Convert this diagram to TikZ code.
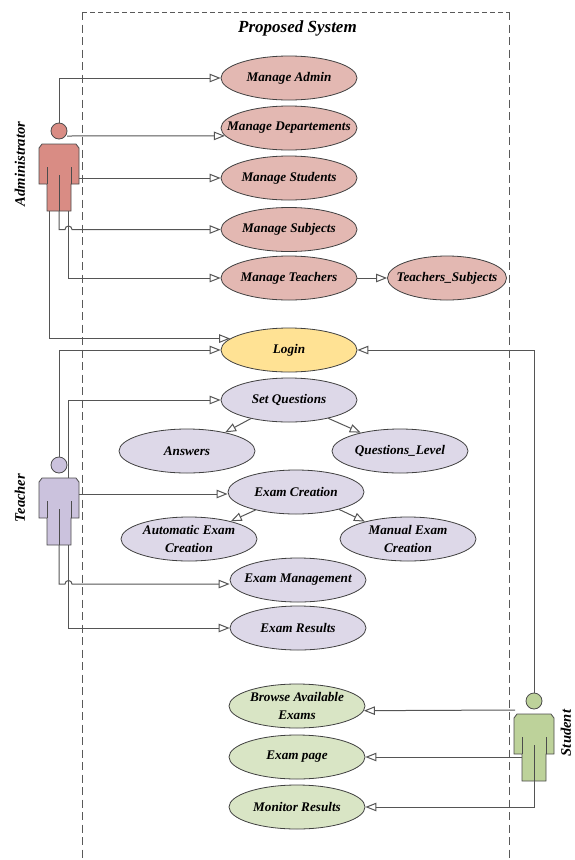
\documentclass[tikz,border=0pt]{standalone}
\usepackage{fontspec}
\setmainfont{Liberation Serif}
\usetikzlibrary{arrows.meta,shapes.geometric,calc}
\definecolor{linegray}{HTML}{555555}
\definecolor{pinkfill}{HTML}{E3B8B2}
\definecolor{pinkactor}{HTML}{D98C84}
\definecolor{yellowfill}{HTML}{FFE294}
\definecolor{purplefill}{HTML}{DDD8E8}
\definecolor{purpleactor}{HTML}{CBC2DD}
\definecolor{greenfill}{HTML}{D9E5C5}
\definecolor{greenactor}{HTML}{BDD29A}
\tikzset{
  x=1pt,y=-1pt,
  usecase/.style={ellipse,draw=black!75,line width=0.8pt,minimum width=136pt,minimum height=44pt,inner xsep=-35pt,inner ysep=-12pt,align=center,font=\bfseries\itshape\fontsize{13.2}{18}\selectfont},
  pinkcase/.style={usecase,fill=pinkfill},
  yellowcase/.style={usecase,fill=yellowfill},
  purplecase/.style={usecase,fill=purplefill},
  greencase/.style={usecase,fill=greenfill},
  link/.style={draw=linegray,line width=1pt,-{Triangle[open,fill=white,length=11pt,width=8.5pt]}},
  actorlabel/.style={rotate=90,font=\bfseries\itshape\fontsize{14.6}{16}\selectfont},
  title/.style={font=\bfseries\itshape\fontsize{17}{20}\selectfont},
  boundary/.style={draw=black!65,line width=0.9pt,dash pattern=on 8pt off 4.5pt},
  boundarytop/.style={draw=black!65,line width=0.9pt,dash pattern=on 5pt off 3pt},
  actor/.pic={
    \path[pic actions,draw=black!70,line width=0.8pt] (0,0) circle[radius=8];
    \path[pic actions,draw=black!70,line width=0.8pt]
      (-17,13) -- (17,13) -- (20,17) -- (20,53) -- (12,53) -- (12,80) -- (-12,80) -- (-12,53) -- (-20,53) -- (-20,17) -- cycle;
    \draw[black!70,line width=0.8pt] (-12,53) -- (-12,36) (12,53) -- (12,36) (0,80) -- (0,44);
    \coordinate (-top) at (0,-8);
    \coordinate (-neck) at (8,5);
    \coordinate (-hand) at (20,47);
    \coordinate (-arm) at (20,29);
    \coordinate (-side) at (-19,9);
    \coordinate (-leg) at (-12,56);
    \coordinate (-crotch) at (0,80);
    \coordinate (-footl) at (-10,80);
    \coordinate (-footr) at (9.5,80);
    \coordinate (-shoulder) at (9.5,13);
  }
}
\begin{document}
\begin{tikzpicture}
\useasboundingbox (0,0) rectangle (575,860);
\coordinate (bl) at (82,860);
\coordinate (tl) at (82,12);
\coordinate (tr) at (509,12);
\coordinate (br) at (509,860);
\draw[boundary] (tl) -- (bl);
\draw[boundary] (tr) -- (br);
\draw[boundarytop] (tl) -- (tr);
\node[title] (ttl) at (297.5,28) {Proposed System};

\node[pinkcase] (admin1) at (289,78) {Manage Admin};
\node[pinkcase] (dept) at (289,128) {Manage Departements};
\node[pinkcase] (stud) at (289,178) {Manage Students};
\node[pinkcase] (subj) at (289,229.5) {Manage Subjects};
\node[pinkcase] (teach) at (289,278) {Manage Teachers};
\node[pinkcase,minimum width=119pt] (tsub) at (447,278) {Teachers\_Subjects};
\node[yellowcase] (login) at (289,350) {Login};
\node[purplecase] (setq) at (289,400) {Set Questions};
\node[purplecase] (ans) at (187,451) {Answers};
\node[purplecase] (qlev) at (400,451) {Questions\_Level};
\node[purplecase] (exc) at (296,492) {Exam Creation};
\node[purplecase] (auto) at (189,539) {Automatic Exam\\Creation};
\node[purplecase] (man) at (408,539) {Manual Exam\\Creation};
\node[purplecase] (emg) at (298,580) {Exam Management};
\node[purplecase] (eres) at (298,628) {Exam Results};
\node[greencase] (brow) at (297,706) {Browse Available\\Exams};
\node[greencase] (epage) at (297,757) {Exam page};
\node[greencase] (mon) at (297,807) {Monitor Results};

\pic[fill=pinkactor] (A) at (59,131) {actor};
\pic[fill=purpleactor] (T) at (59,465) {actor};
\pic[fill=greenactor] (S) at (534,701) {actor};

\node[actorlabel] (la) at (20,164) {Administrator};
\node[actorlabel] (lt) at (20,498) {Teacher};
\node[actorlabel] (ls) at (566,733) {Student};

% Administrator
\draw[link] (A-top) |- (admin1.west);
\draw[link] (A-neck) -- (dept.187.24);
\draw[link] (A-hand) -- (stud.west);
\draw[link] (A-crotch) |- (65,229.5) arc[start angle=180,end angle=360,radius=3.5] -- (subj.west);
\draw[link] (A-footr) |- (teach.west);
\draw[link] (A-footl) |- (login.169.4);
\draw[link] (teach.east) -- (tsub.west);

% Teacher
\draw[link] (T-top) |- (login.west);
\draw[link] (T-shoulder) |- (setq.west);
\draw[link] (T-arm) -- (exc.west |- T-arm);
\draw[link] (T-crotch) |- (65,584) arc[start angle=180,end angle=360,radius=3.5] -- (emg.west |- 0,584);
\draw[link] (T-footr) |- (eres.west);
\draw[link] (setq.206) -- (ans.26.6);
\draw[link] (setq.335) -- (qlev.155);
\draw[link] (exc.204) -- (auto.23);
\draw[link] (exc.338) -- (man.158);

% Student
\draw[link] (S-top) |- (login.east);
\draw[link] (S-side) -- (brow.356.6);
\draw[link] (S-leg) -- (epage.east);
\draw[link] (S-crotch) |- (mon.east);
\end{tikzpicture}
\end{document}
